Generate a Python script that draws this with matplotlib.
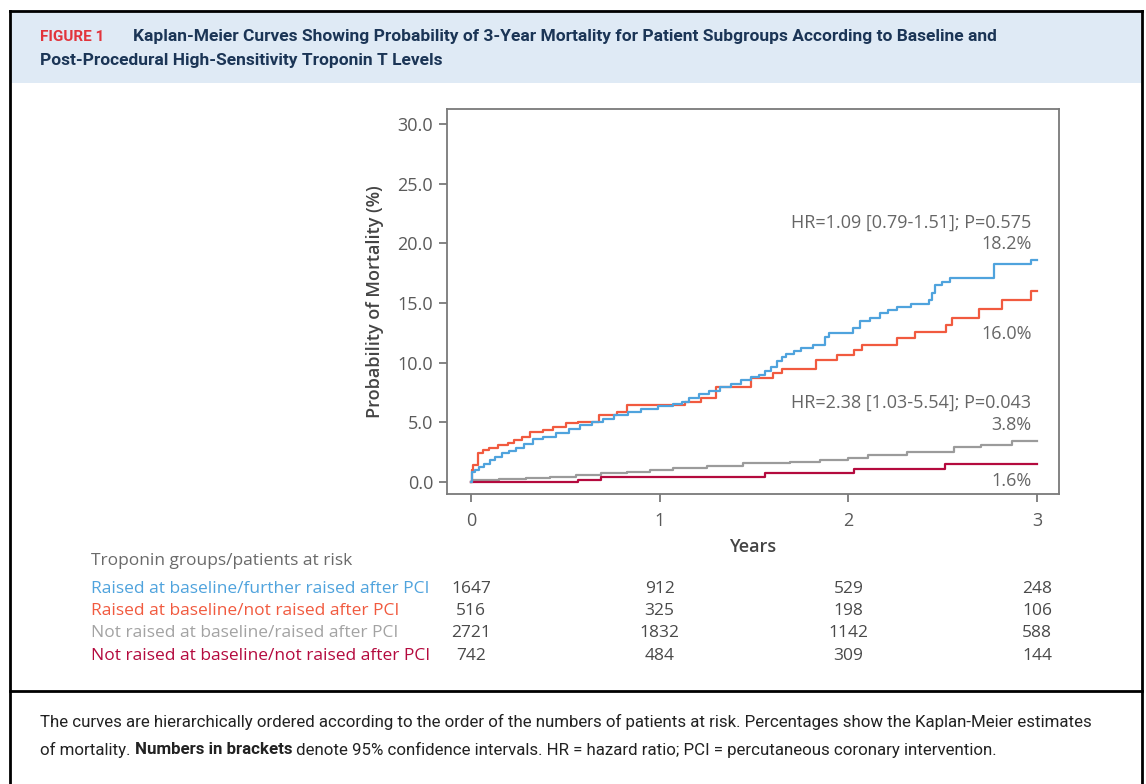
import matplotlib
matplotlib.use("Agg")
import matplotlib.pyplot as plt
from matplotlib.patches import Rectangle
from matplotlib.lines import Line2D
import matplotlib.transforms as mtransforms

# ---------------- data ----------------
blue_t = [0, 0.005, 0.02, 0.04, 0.07, 0.1, 0.13, 0.165, 0.2, 0.24, 0.28, 0.33, 0.38, 0.45, 0.52, 0.58,
          0.64, 0.7, 0.76, 0.83, 0.9, 0.99, 1.07, 1.12, 1.155, 1.21, 1.26, 1.32, 1.38, 1.43, 1.486,
          1.527, 1.56, 1.588, 1.62, 1.65, 1.671, 1.71, 1.75, 1.815, 1.877, 1.898, 2.022, 2.06, 2.115,
          2.166, 2.21, 2.259, 2.33, 2.425, 2.444, 2.46, 2.496, 2.54, 2.77, 2.97, 3.0]
blue_v = [0, 0.84, 1.0, 1.26, 1.5, 1.8, 2.1, 2.4, 2.55, 2.8, 3.2, 3.55, 3.75, 4.1, 4.45, 4.76,
          5.0, 5.3, 5.6, 5.87, 6.1, 6.35, 6.5, 6.7, 7.0, 7.4, 7.6, 7.97, 8.2, 8.5, 8.81,
          8.95, 9.3, 9.65, 10.1, 10.49, 10.71, 10.95, 11.19, 11.47, 12.17, 12.5, 12.87, 13.51, 13.71,
          14.13, 14.4, 14.69, 14.91, 15.24, 15.8, 16.5, 16.78, 17.11, 18.26, 18.6, 18.6]

red_t = [0, 0.003, 0.01, 0.036, 0.063, 0.093, 0.145, 0.197, 0.227, 0.269, 0.314, 0.382, 0.434,
         0.506, 0.568, 0.681, 0.774, 0.826, 1.135, 1.217, 1.30, 1.486, 1.599, 1.65, 1.826, 1.939,
         2.032, 2.073, 2.259, 2.352, 2.517, 2.548, 2.692, 2.815, 2.97, 3.0]
red_v = [0, 0.98, 1.40, 2.43, 2.66, 2.80, 3.08, 3.27, 3.50, 3.78, 4.19, 4.34, 4.61,
         4.90, 5.04, 5.60, 5.87, 6.43, 6.71, 7.0, 7.92, 8.67, 9.09, 9.43, 10.21, 10.63,
         11.05, 11.47, 12.03, 12.58, 13.15, 13.71, 14.46, 15.24, 16.0, 16.0]

grey_t = [0, 0.01, 0.15, 0.289, 0.42, 0.557, 0.69, 0.826, 0.95, 1.073, 1.25, 1.444, 1.692,
          1.85, 2.0, 2.104, 2.31, 2.557, 2.702, 2.867, 3.0]
grey_v = [0, 0.14, 0.2, 0.28, 0.42, 0.56, 0.7, 0.84, 0.98, 1.12, 1.3, 1.54, 1.68,
          1.82, 1.96, 2.24, 2.52, 2.94, 3.08, 3.44, 3.44]

maroon_t = [0, 0.565, 0.69, 1.557, 2.032, 2.51, 3.0]
maroon_v = [0, 0.14, 0.42, 0.70, 1.03, 1.45, 1.45]

group_labels = ["Raised at baseline/further raised after PCI",
                "Raised at baseline/not raised after PCI",
                "Not raised at baseline/raised after PCI",
                "Not raised at baseline/not raised after PCI"]
risk_times = [0, 1, 2, 3]
risk_counts = [[1647, 912, 529, 248],
               [516, 325, 198, 106],
               [2721, 1832, 1142, 588],
               [742, 484, 309, 144]]

y_ticks = [0.0, 5.0, 10.0, 15.0, 20.0, 25.0, 30.0]
x_ticks = [0, 1, 2, 3]

hr_text_1 = "HR=1.09 [0.79-1.51]; P=0.575"
hr_text_2 = "HR=2.38 [1.03-5.54]; P=0.043"
pct_labels = ["18.2%", "16.0%", "3.8%", "1.6%"]

# ---------------- style ----------------
C_BLUE = "#4fa3dd"
C_RED = "#f15a3f"
C_GREY = "#9b9b9b"
C_MAROON = "#b40a3e"
C_TEXT = "#5a5a5a"
FONT = ["Open Sans", "DejaVu Sans"]
TFONT = ["Roboto", "DejaVu Sans"]

W, H = 1146, 784
fig = plt.figure(figsize=(W / 100, H / 100), dpi=100)
fig.patch.set_facecolor("white")


def fx(px):
    return px / W


def fy(py):
    return 1 - py / H


# header band and frame
fig.patches.append(Rectangle((fx(10), fy(83)), fx(1131), (73) / H, transform=fig.transFigure,
                             facecolor="#dfeaf5", edgecolor="none", zorder=0))
frame_kw = dict(transform=fig.transFigure, color="black", linewidth=2.0, zorder=5)
fig.lines.append(Line2D([fx(9.5), fx(1141.5)], [fy(10.5), fy(10.5)], **frame_kw))
fig.lines.append(Line2D([fx(9.5), fx(9.5)], [fy(10.5), fy(790)], **frame_kw))
fig.lines.append(Line2D([fx(1141.5), fx(1141.5)], [fy(10.5), fy(790)], **frame_kw))
fig.lines.append(Line2D([fx(9.5), fx(1141.5)], [fy(691), fy(691)], **frame_kw))

# title
fig.text(fx(40), fy(37), "FIGURE 1", color="#e2343b", fontsize=11, fontweight="bold",
         family=TFONT, va="center", ha="left")
fig.text(fx(133), fy(37),
         "Kaplan-Meier Curves Showing Probability of 3-Year Mortality for Patient Subgroups According to Baseline and",
         color="#1b3556", fontsize=12.5, fontweight="bold", family=TFONT,
         va="center", ha="left")
fig.text(fx(40), fy(61), "Post-Procedural High-Sensitivity Troponin T Levels",
         color="#1b3556", fontsize=12.5, fontweight="bold", family=TFONT,
         va="center", ha="left")

# axes
ax = fig.add_axes([fx(447), fy(494), (1059 - 447) / W, (494 - 109) / H])
ax.step(grey_t, grey_v, where="post", color=C_GREY, lw=1.6, zorder=3)
ax.step(maroon_t, maroon_v, where="post", color=C_MAROON, lw=1.6, zorder=4)
ax.step(red_t, red_v, where="post", color=C_RED, lw=1.6, zorder=5)
ax.step(blue_t, blue_v, where="post", color=C_BLUE, lw=1.6, zorder=6)

ax.set_xlim(-0.127, 3.116)
ax.set_ylim(-1.03, 31.27)
ax.set_yticks(y_ticks)
ax.set_yticklabels([f"{v:.1f}" for v in y_ticks])
ax.set_xticks(x_ticks)
ax.set_xticklabels([str(v) for v in x_ticks])
for s in ax.spines.values():
    s.set_color("#7a7a7a")
    s.set_linewidth(1.3)
ax.tick_params(axis="both", colors="#7a7a7a", labelcolor=C_TEXT, length=6, width=1.3,
               labelsize=13)
ax.tick_params(axis="y", pad=4)
ax.tick_params(axis="x", pad=7)
for lab in ax.get_xticklabels() + ax.get_yticklabels():
    lab.set_family(FONT)
ax.set_ylabel("Probability of Mortality (%)", fontsize=13, color="#444444", family=FONT,
              fontweight="semibold", labelpad=10)
ax.set_xlabel("Years", fontsize=13, color="#444444", family=FONT, fontweight="semibold", labelpad=6)

# annotations
ann_x = 2.97
ann_kw = dict(ha="right", va="center", fontsize=13, color="#666666", family=FONT)
ax.text(ann_x, 21.75, hr_text_1, **ann_kw)
ax.text(ann_x, 19.94, pct_labels[0], **ann_kw)
ax.text(ann_x, 12.39, pct_labels[1], **ann_kw)
ax.text(ann_x, 6.6, hr_text_2, **ann_kw)
ax.text(ann_x, 4.76, pct_labels[2], **ann_kw)
ax.text(ann_x, 0.06, pct_labels[3], **ann_kw)

# risk table
fig.text(fx(91), fy(561), "Troponin groups/patients at risk", fontsize=12.5, color="#6a6a6a",
         family=FONT, va="center", ha="left")
row_colors = [C_BLUE, C_RED, "#a3a3a3", C_MAROON]
row_y = [589, 611, 633, 656]
trans = mtransforms.blended_transform_factory(ax.transData, fig.transFigure)
for lab, counts, col, ry in zip(group_labels, risk_counts, row_colors, row_y):
    fig.text(fx(91), fy(ry), lab, fontsize=12.5, color=col, family=FONT, va="center", ha="left")
    for tt, n in zip(risk_times, counts):
        ax.text(tt, fy(ry), str(n), transform=trans, fontsize=12.5, color="#4a4a4a",
                family=FONT, va="center", ha="center", clip_on=False)

# caption
cap_kw = dict(fontsize=12.2, color="#222222", family=TFONT, va="center", ha="left")
fig.text(fx(40), fy(722),
         "The curves are hierarchically ordered according to the order of the numbers of patients at risk. "
         "Percentages show the Kaplan-Meier estimates", **cap_kw)
t_a = fig.text(fx(40), fy(750), "of mortality. ", **cap_kw)
fig.canvas.draw()
r = fig.canvas.get_renderer()
bb = t_a.get_window_extent(r)
t_b = fig.text(bb.x1 / W, fy(750), "Numbers in brackets", fontweight="bold", **cap_kw)
bb2 = t_b.get_window_extent(r)
fig.text(bb2.x1 / W, fy(750),
         " denote 95% confidence intervals. HR = hazard ratio; PCI = percutaneous coronary intervention.",
         **cap_kw)

fig.savefig("out.png", dpi=100, facecolor="white")
